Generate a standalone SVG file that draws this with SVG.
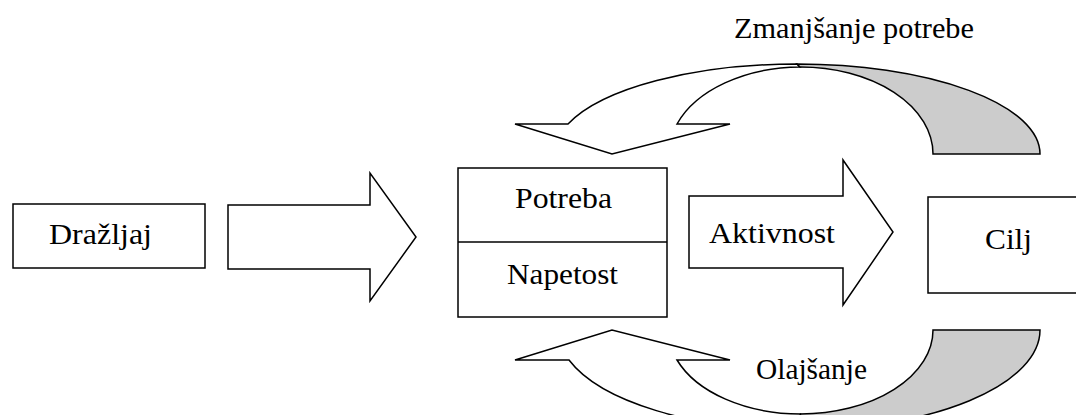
<svg xmlns="http://www.w3.org/2000/svg" width="1076" height="415" viewBox="0 0 1076 415">
  <style>
    .shape { fill: #ffffff; stroke: #000000; stroke-width: 1.5; stroke-linejoin: miter; }
    .back { fill: #cccccc; stroke: #000000; stroke-width: 1.5; }
    .label { font-family: "Liberation Serif", "Times New Roman", serif; font-size: 30px; fill: #000000; }
  </style>
  <rect width="1076" height="415" fill="#ffffff"/>

  <!-- connectors: block arrows and the two curved feedback arrows -->
  <g id="connectors">
    <path id="arrow-stimulus" class="shape" d="M228 205 L370 205 L370 173 L416 237 L370 301 L370 269 L228 269 Z"/>

    <g id="arrow-activity">
      <path class="shape" d="M689 196 L843 196 L843 160 L893 232 L843 305 L843 268 L689 268 Z"/>
      <text class="label" x="709" y="243" textLength="126" lengthAdjust="spacingAndGlyphs">Aktivnost</text>
    </g>

    <g id="arrow-need-reduction">
      <path class="shape" d="M568 124 A243 90 0 0 1 797 64 L800 67 A132.5 87 0 0 0 677 124 L730 124 L612 154 L515 124 Z"/>
      <path class="back" d="M797 64 A243 90 0 0 1 1040 154 L933 154 A132.5 87 0 0 0 800 67 Z"/>
      <text class="label" x="734" y="38" textLength="240" lengthAdjust="spacingAndGlyphs">Zmanjšanje potrebe</text>
    </g>

    <g id="arrow-relief">
      <path class="shape" d="M569 360 A241 100 0 0 0 799 430 L800.5 414 A132.5 84 0 0 1 677 360 L730 360 L612 330 L515 360 Z"/>
      <path class="back" d="M799 430 A241 100 0 0 0 1040 330 L933 330 A132.5 84 0 0 1 800.5 414 Z"/>
      <text class="label" x="756" y="379" textLength="111" lengthAdjust="spacingAndGlyphs">Olajšanje</text>
    </g>
  </g>

  <g id="node-stimulus">
    <rect class="shape" x="13" y="204" width="192" height="64"/>
    <text class="label" x="49" y="244" textLength="103" lengthAdjust="spacingAndGlyphs">Dražljaj</text>
  </g>

  <g id="node-need">
    <rect class="shape" x="458" y="168" width="209" height="149"/>
    <line class="shape" x1="458" y1="242" x2="667" y2="242"/>
    <text class="label" x="515" y="208" textLength="97" lengthAdjust="spacingAndGlyphs">Potreba</text>
    <text class="label" x="507" y="284" textLength="111" lengthAdjust="spacingAndGlyphs">Napetost</text>
  </g>

  <g id="node-goal">
    <rect class="shape" x="928" y="197" width="160" height="96"/>
    <text class="label" x="985" y="249" textLength="47" lengthAdjust="spacingAndGlyphs">Cilj</text>
  </g>
</svg>
